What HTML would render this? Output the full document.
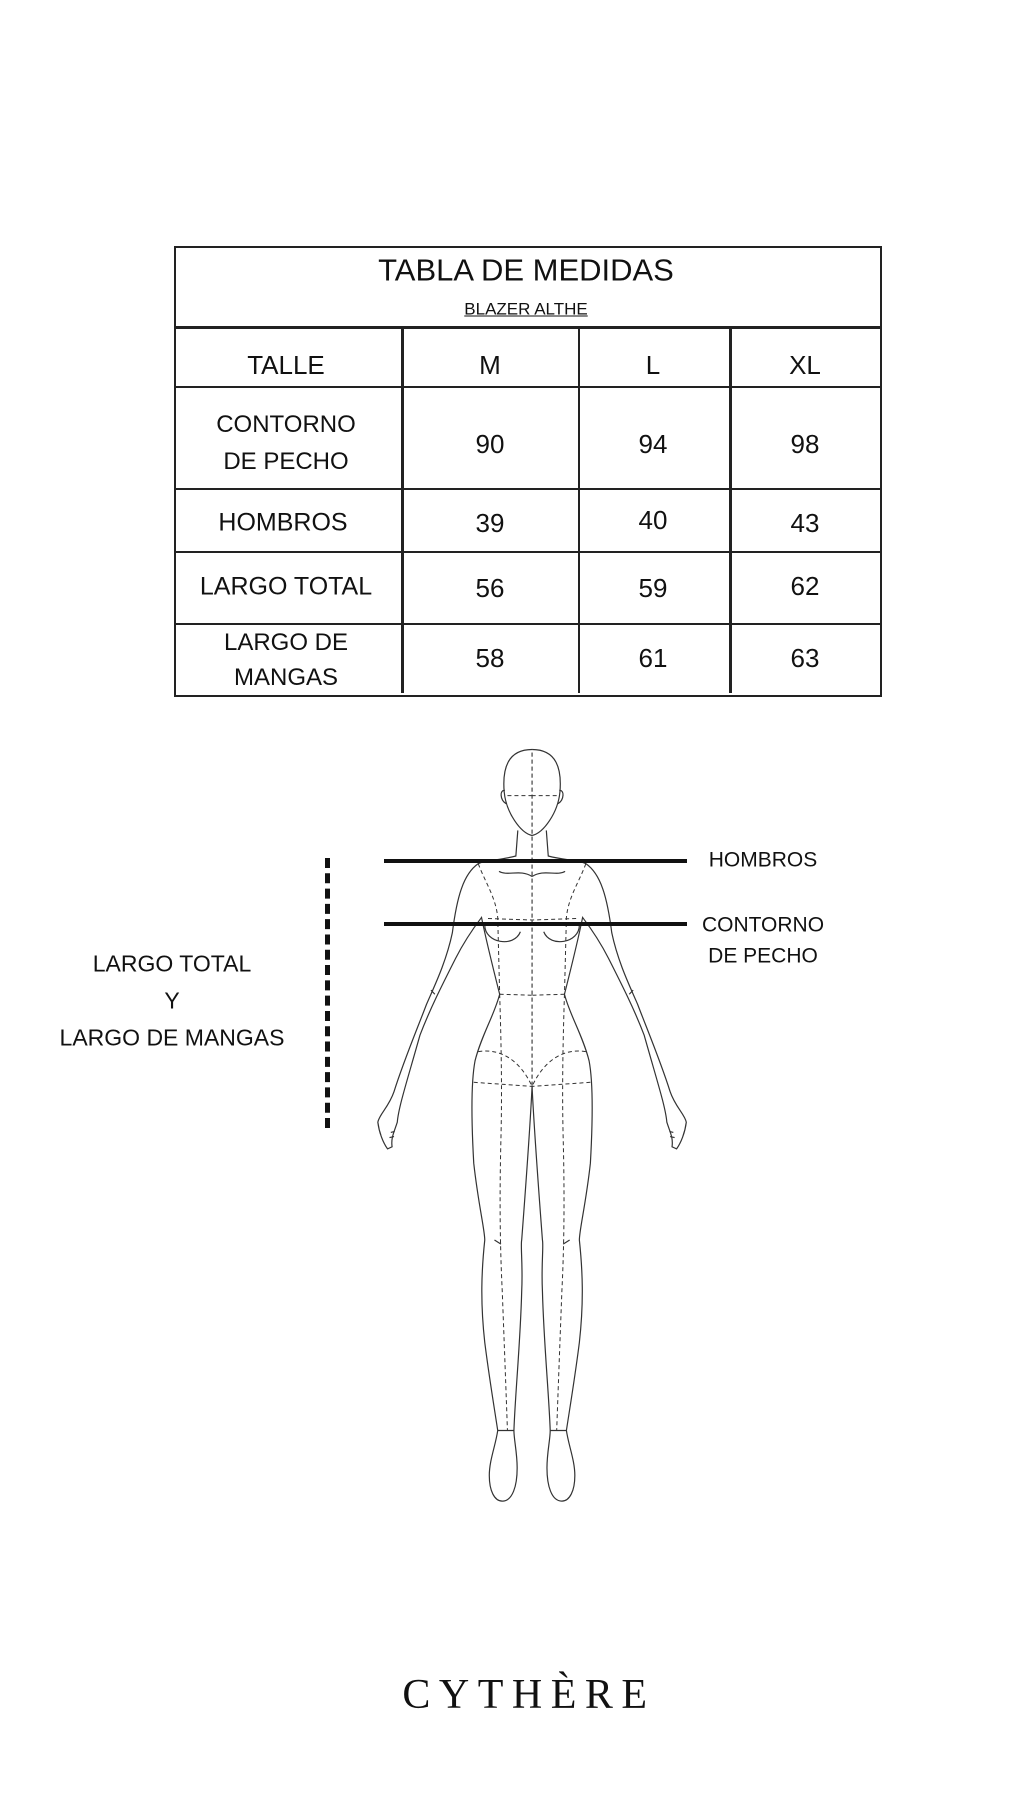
<!DOCTYPE html>
<html><head><meta charset="utf-8">
<style>
body{margin:0;background:#fff;}
#p{position:relative;width:1024px;height:1820px;background:#fff;overflow:hidden;font-family:"Liberation Sans",sans-serif;color:#111;}
.t{position:absolute;white-space:nowrap;transform:translate(-50%,-50%);line-height:1;}
.h{position:absolute;background:#222;}
</style></head><body>
<div id="p">
<!-- table -->
<div style="position:absolute;left:174px;top:246px;width:704px;height:447px;border:2px solid #222;"></div>
<div class="h" style="left:174px;top:326px;width:708px;height:3px;"></div>
<div class="h" style="left:174px;top:386px;width:708px;height:2px;"></div>
<div class="h" style="left:174px;top:488px;width:708px;height:2px;"></div>
<div class="h" style="left:174px;top:551px;width:708px;height:2px;"></div>
<div class="h" style="left:174px;top:623px;width:708px;height:2px;"></div>
<div class="h" style="left:401px;top:327px;width:3px;height:366px;"></div>
<div class="h" style="left:578px;top:327px;width:2px;height:366px;"></div>
<div class="h" style="left:729px;top:327px;width:3px;height:366px;"></div>
<div class="t" style="left:526px;top:270px;font-size:31px;">TABLA DE MEDIDAS</div>
<div class="t" style="left:526px;top:309px;font-size:17px;text-decoration:underline;">BLAZER ALTHE</div>
<div class="t" style="left:286px;top:365px;font-size:26px;">TALLE</div>
<div class="t" style="left:490px;top:365px;font-size:26px;">M</div>
<div class="t" style="left:653px;top:365px;font-size:26px;">L</div>
<div class="t" style="left:805px;top:365px;font-size:26px;">XL</div>
<div class="t" style="left:286px;top:425px;font-size:24px;">CONTORNO</div>
<div class="t" style="left:286px;top:462px;font-size:24px;">DE PECHO</div>
<div class="t" style="left:490px;top:444px;font-size:26px;">90</div>
<div class="t" style="left:653px;top:444px;font-size:26px;">94</div>
<div class="t" style="left:805px;top:444px;font-size:26px;">98</div>
<div class="t" style="left:283px;top:523px;font-size:25px;">HOMBROS</div>
<div class="t" style="left:490px;top:523px;font-size:26px;">39</div>
<div class="t" style="left:653px;top:520px;font-size:26px;">40</div>
<div class="t" style="left:805px;top:523px;font-size:26px;">43</div>
<div class="t" style="left:286px;top:587px;font-size:25px;">LARGO TOTAL</div>
<div class="t" style="left:490px;top:588px;font-size:26px;">56</div>
<div class="t" style="left:653px;top:588px;font-size:26px;">59</div>
<div class="t" style="left:805px;top:586px;font-size:26px;">62</div>
<div class="t" style="left:286px;top:643px;font-size:24px;">LARGO DE</div>
<div class="t" style="left:286px;top:678px;font-size:24px;">MANGAS</div>
<div class="t" style="left:490px;top:658px;font-size:26px;">58</div>
<div class="t" style="left:653px;top:658px;font-size:26px;">61</div>
<div class="t" style="left:805px;top:658px;font-size:26px;">63</div>

<!-- figure -->
<svg style="position:absolute;left:0;top:0" width="1024" height="1820">
<g transform="translate(2,728) scale(0.648,0.512)" fill="none" stroke="#333" stroke-width="1.2">
 <g id="half">
  <path vector-effect="non-scaling-stroke" d="M818,42 C780,42 772,80 775,125 C778,165 800,205 818,210"/>
  <path vector-effect="non-scaling-stroke" d="M776,122 C768,120 768,140 778,148"/>
  <path vector-effect="non-scaling-stroke" d="M796,200 L793,250 C770,258 745,258 735,265 C712,285 702,330 695,400 C685,460 665,510 655,540 C640,590 620,650 605,710 C597,740 582,755 580,770 C582,790 588,810 595,822 L602,818 C600,800 605,790 610,770 C612,740 625,690 645,600 C660,550 680,500 700,450 C712,420 725,395 740,370 C748,420 758,470 768,520 C760,560 740,600 730,650 C724,690 724,760 728,850 C735,930 745,980 745,1000 C740,1060 738,1120 745,1200 C752,1270 760,1330 765,1372 C762,1400 752,1430 752,1460 C752,1490 760,1510 772,1510 C788,1510 795,1480 795,1445 C795,1415 790,1390 790,1372 C792,1300 800,1200 802,1100 C804,1050 800,1010 802,1000 C808,900 815,780 818,700"/>
  <path vector-effect="non-scaling-stroke" d="M767,280 C780,290 800,275 818,290"/>
  <path vector-effect="non-scaling-stroke" d="M745,385 C745,420 790,430 800,398"/>
  <path vector-effect="non-scaling-stroke" d="M662,512 L668,520 M600,790 L606,788 M598,800 L605,798 M760,1000 L770,1008 M765,1372 L790,1372"/>
  <g stroke-dasharray="4,3" stroke-width="1">
   <path vector-effect="non-scaling-stroke" d="M818,48 L818,700 M780,132 L818,132"/>
   <path vector-effect="non-scaling-stroke" d="M735,265 C745,300 762,330 765,370 L768,520"/>
   <path vector-effect="non-scaling-stroke" d="M768,520 L818,522 M750,372 L818,375"/>
   <path vector-effect="non-scaling-stroke" d="M735,632 C770,625 800,650 818,700 M728,692 L818,700"/>
   <path vector-effect="non-scaling-stroke" d="M768,520 C770,600 772,700 770,800 C768,900 768,1000 772,1100 C775,1200 778,1300 780,1372"/>
  </g>
 </g>
 <use href="#half" transform="translate(1636,0) scale(-1,1)"/>
</g>
</svg>
<!-- measure lines -->
<div class="h" style="left:384px;top:859px;width:303px;height:4px;background:#111;"></div>
<div class="h" style="left:384px;top:922px;width:303px;height:4px;background:#111;"></div>
<div style="position:absolute;left:325px;top:858px;height:270px;border-left:5px dashed #111;"></div>
<div class="t" style="left:763px;top:860px;font-size:21px;">HOMBROS</div>
<div class="t" style="left:763px;top:925px;font-size:21px;">CONTORNO</div>
<div class="t" style="left:763px;top:956px;font-size:21px;">DE PECHO</div>
<div class="t" style="left:172px;top:964px;font-size:23px;">LARGO TOTAL</div>
<div class="t" style="left:172px;top:1001px;font-size:23px;">Y</div>
<div class="t" style="left:172px;top:1038px;font-size:23px;">LARGO DE MANGAS</div>
<div class="t" style="left:529px;top:1695px;font-size:42px;font-family:'Liberation Serif',serif;letter-spacing:8.5px;">CYTHÈRE</div>
</div>
</body></html>
